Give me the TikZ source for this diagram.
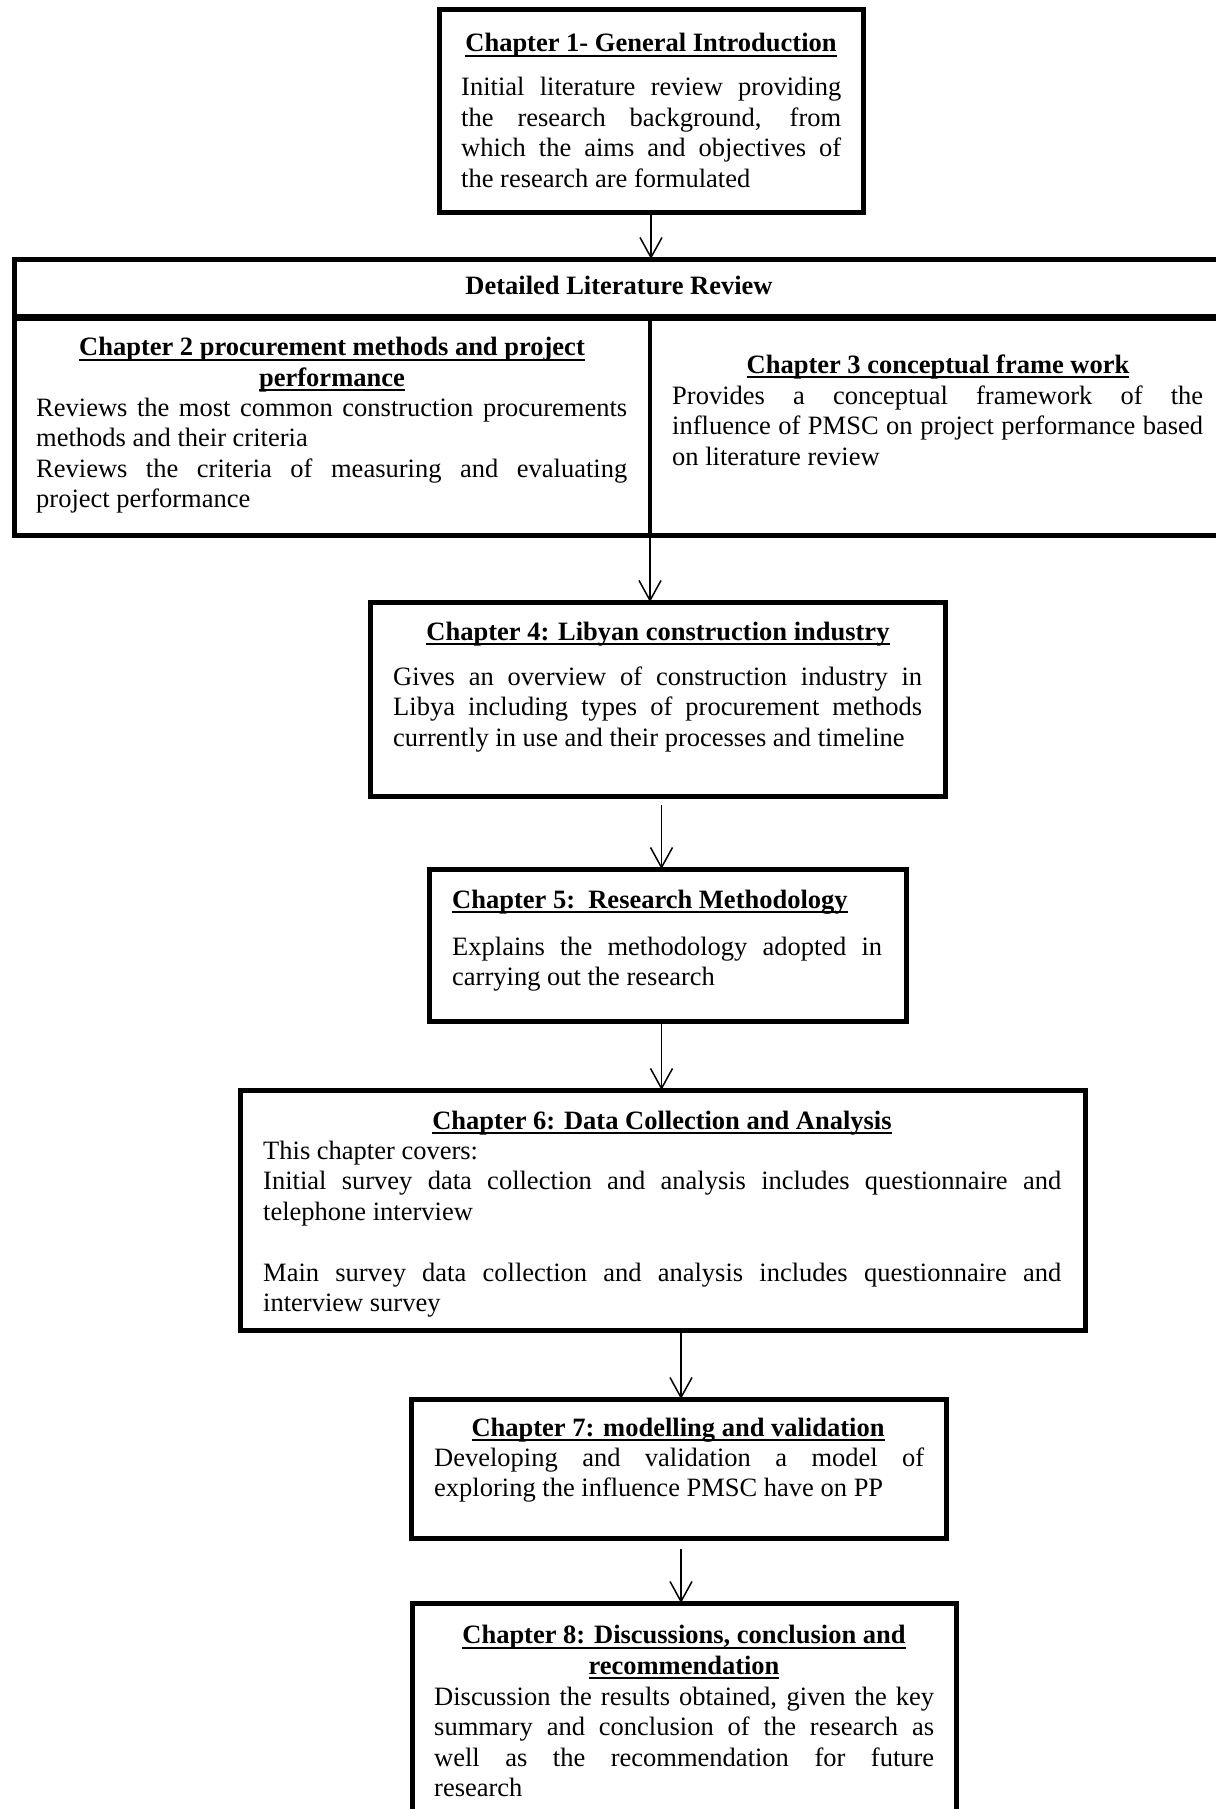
\documentclass[tikz,border=0pt]{standalone}
\usepackage{fontspec}
\setmainfont{Liberation Serif}
\usetikzlibrary{arrows.meta,positioning}
\newsavebox{\chulbox}
\newcommand{\chul}[1]{\sbox{\chulbox}{#1}\rlap{\rule[-5pt]{\wd\chulbox}{2pt}}\usebox{\chulbox}}
\newcommand{\chfont}{\fontsize{26.5}{30.5}\selectfont}

\tikzset{
  chbox/.style={draw, line width=5pt, inner sep=0pt, outer sep=0pt, anchor=north west},
  chhead/.style={font=\chfont\bfseries, inner sep=0pt, anchor=base, align=center},
  chbody/.style={font=\chfont, align=justify, inner sep=0pt, anchor=base west},
  flow/.style={line width=1.5pt, -{Straight Barb[length=20pt,width=22pt,line width=1.5pt]}},
}

\begin{document}
\begin{tikzpicture}[x=1pt,y=-1pt]
\useasboundingbox (0,0) rectangle (1215,1809);

\node[chbox, minimum width=424pt, minimum height=202pt] (ch1) at (439,10) {};
\node[chhead] (ch1head) at (651,52) {\chul{Chapter 1- General Introduction}};
\node[chbody, text width=380pt] (ch1body) at (461,96) {Initial literature review providing\linebreak the research background, from\linebreak which the aims and objectives of\linebreak the research are formulated};

\node[chbox, minimum width=1214pt, minimum height=57pt] (dlrhead) at (14,259) {};
\node[chhead] (dlrtitle) at (619,294) {Detailed Literature Review};
\node[chbox, minimum width=1214pt, minimum height=217pt] (dlrbody) at (14,318) {};
\coordinate (split) at (650,318);
\draw[line width=4pt] (split) -- (split |- dlrbody.south);

\node[chhead] (ch2head) at (332,386) {\chul{Chapter 2 procurement methods and project}\\\chul{performance}};
\node[chbody, text width=591pt] (ch2body) at (36,416) {Reviews the most common construction procurements\linebreak methods and their criteria\\Reviews the criteria of measuring and evaluating\linebreak project performance};
\node[chhead] (ch3head) at (938,373) {\chul{Chapter 3 conceptual frame work}};
\node[chbody, text width=531pt] (ch3body) at (672,404) {Provides a conceptual framework of the\linebreak influence of PMSC on project performance based\linebreak on literature review};

\node[chbox, minimum width=575pt, minimum height=194pt] (ch4) at (370,602) {};
\node[chhead] (ch4head) at (658,640) {\chul{Chapter 4: Libyan construction industry}};
\node[chbody, text width=529pt] (ch4body) at (393,685) {Gives an overview of construction industry in\linebreak Libya including types of procurement methods\linebreak currently in use and their processes and timeline};

\node[chbox, minimum width=477pt, minimum height=152pt] (ch5) at (429,869) {};
\node[chhead, anchor=base west] (ch5head) at (452,908) {\chul{Chapter 5:~~Research Methodology}};
\node[chbody, text width=430pt] (ch5body) at (452,955) {Explains the methodology adopted in\linebreak carrying out the research};

\node[chbox, minimum width=845pt, minimum height=240pt] (ch6) at (240,1090) {};
\node[chhead] (ch6head) at (662,1129) {\chul{Chapter 6: Data Collection and Analysis}};
\node[chbody, text width=798pt] (ch6body) at (263,1159) {This chapter covers:\\Initial survey data collection and analysis includes questionnaire and\linebreak telephone interview\\[30.5pt]Main survey data collection and analysis includes questionnaire and\linebreak interview survey};

\node[chbox, minimum width=535pt, minimum height=139pt] (ch7) at (411,1399) {};
\node[chhead] (ch7head) at (678,1436) {\chul{Chapter 7: modelling and validation}};
\node[chbody, text width=490pt] (ch7body) at (434,1466) {Developing and validation a model of\linebreak exploring the influence PMSC have on PP};

\node[chbox, minimum width=544pt, minimum height=240pt] (ch8) at (412,1603) {};
\node[chhead] (ch8head) at (684,1674) {\chul{Chapter 8: Discussions, conclusion and}\\\chul{recommendation}};
\node[chbody, text width=500pt] (ch8body) at (434,1705) {Discussion the results obtained, given the key\linebreak summary and conclusion of the research as\linebreak well as the recommendation for future\linebreak research};

\draw[flow] (ch1.south) -- (ch1.south |- dlrhead.north);
\draw[flow] (split |- dlrbody.south) -- (split |- ch4.north);
\draw[flow] ([xshift=4pt,yshift=-9pt]ch4.south) -- ([xshift=4pt]ch4.south |- ch5.north);
\draw[flow] ([xshift=-6pt]ch5.south) -- ([xshift=-6pt]ch5.south |- ch6.north);
\draw[flow] ([xshift=2.5pt]ch7.north |- ch6.south) -- ([xshift=2.5pt]ch7.north);
\draw[flow] ([xshift=2.5pt,yshift=-11pt]ch7.south) -- ([xshift=2.5pt]ch7.south |- ch8.north);
\end{tikzpicture}
\end{document}
